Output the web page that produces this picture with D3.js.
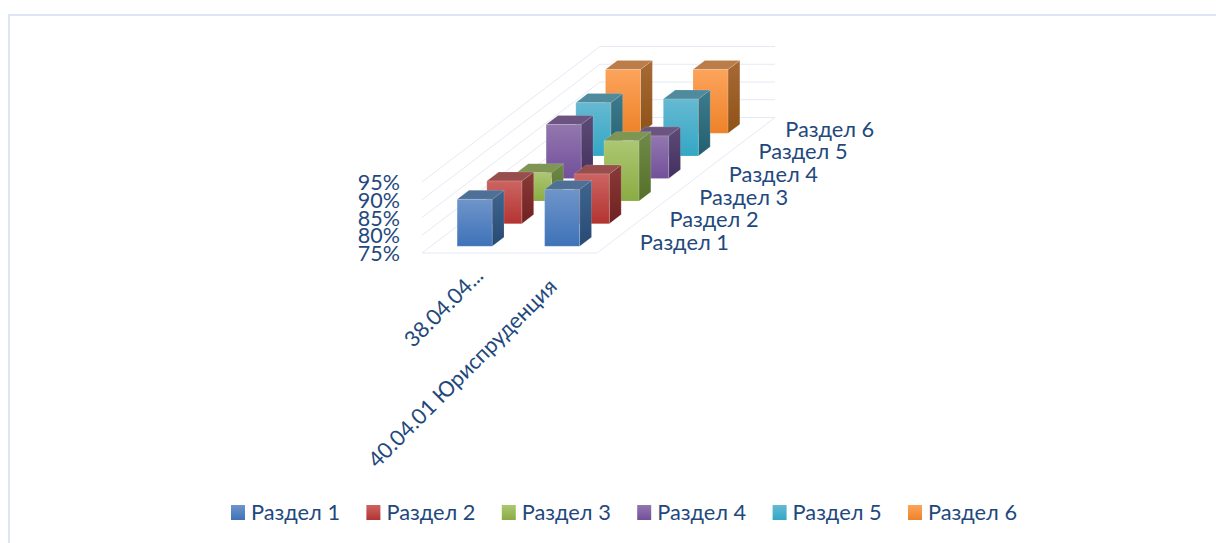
<!DOCTYPE html>
<html>
<head>
<meta charset="utf-8">
<script src="https://cdn.jsdelivr.net/npm/d3@7"></script>
<style>
  html, body { margin: 0; padding: 0; background: #fff; overflow: hidden; }
  text { font-family: Lato, "Noto Sans", sans-serif; fill: #1f497d; }
</style>
</head>
<body>
<div id="chart"></div>
<script>
var categories = ["38.04.04...", "40.04.01 Юриспруденция"];
var seriesNames = ["Раздел 1", "Раздел 2", "Раздел 3", "Раздел 4", "Раздел 5", "Раздел 6"];
var values1 = [88.2, 87, 83, 90.2, 90, 93];
var values2 = [91, 89, 92, 87, 91, 93];
var yTicks = [75, 80, 85, 90, 95];

// colours per series: front top, front bottom, side top, side bottom, top face
var frontTop = ["#6f95ca", "#cc6462", "#acc772", "#9377ae", "#66b9d2", "#fca45c"];
var frontBottom = ["#3e72b8", "#b33431", "#8aac43", "#72509b", "#33a7c5", "#ee8229"];
var sideTop = ["#3f6690", "#8a3a38", "#708a47", "#5d4a75", "#3c7c8e", "#a86a35"];
var sideBottom = ["#274a72", "#6f2120", "#56702c", "#44305f", "#235f70", "#8e5217"];
var topFace = ["#4f7096", "#984e4c", "#7e9554", "#6b5580", "#4f8b9d", "#bb7c48"];

var svg = d3.select("#chart").append("svg")
    .attr("width", 1216)
    .attr("height", 543);

// outer frame, runs off the right and bottom of the picture
svg.append("rect")
    .attr("x", 9).attr("y", 15)
    .attr("width", 1300).attr("height", 700)
    .attr("fill", "none")
    .attr("stroke", "#dce6f5")
    .attr("stroke-width", 2);

// floor corner of the 3d box and the depth vector
var ox = 422, oy = 253;
var depthX = 178, depthY = -135.5;

var xScale = d3.scaleBand().domain(d3.range(categories.length)).range([0, 175]).paddingInner(0.6).paddingOuter(0.3);
var zScale = d3.scaleBand().domain(d3.range(seriesNames.length)).range([0, 1]).paddingInner(0.6).paddingOuter(0.3);
var yScale = d3.scaleLinear().domain([75, 95]).range([0, 71]);

function project(x, v, z) {
    return [ox + x + z * depthX, oy - yScale(v) + z * depthY];
}
var line = d3.line();

// walls
var gridColor = "#e4e9f4";
var grid = svg.append("g").attr("fill", "none").attr("stroke", gridColor).attr("stroke-width", 1);
grid.selectAll("path.wall")
    .data(yTicks)
    .enter()
    .append("path")
    .attr("class", "wall")
    .attr("d", function (d) { return line([project(0, d, 0), project(0, d, 1), project(175, d, 1)]); });
grid.append("path")
    .attr("d", line([project(0, 75, 0), project(175, 75, 0), project(175, 75, 1)]));

// gradients
var defs = svg.append("defs");
function addGradient(id, c1, c2) {
    var g = defs.append("linearGradient").attr("id", id).attr("x1", 0).attr("y1", 0).attr("x2", 0).attr("y2", 1);
    g.append("stop").attr("offset", "0%").attr("stop-color", c1);
    g.append("stop").attr("offset", "100%").attr("stop-color", c2);
}
seriesNames.forEach(function (d, i) {
    addGradient("front" + i, frontTop[i], frontBottom[i]);
    addGradient("side" + i, sideTop[i], sideBottom[i]);
});

// bars, back row first so nearer ones cover them
var bars = [];
d3.range(seriesNames.length).reverse().forEach(function (s) {
    [values1, values2].forEach(function (vals, c) {
        bars.push({ s: s, c: c, v: vals[s] });
    });
});

var barG = svg.selectAll("g.bar")
    .data(bars)
    .enter()
    .append("g")
    .attr("class", "bar")
    .attr("stroke-linejoin", "round");

function face(sel, fn, fill) {
    sel.append("path")
        .attr("d", function (d) { return line(fn(d)) + "Z"; })
        .attr("fill", fill)
        .attr("stroke", "#fff")
        .attr("stroke-opacity", 0.15)
        .attr("stroke-width", 1);
}
function corners(d) {
    return {
        x0: xScale(d.c),
        x1: xScale(d.c) + xScale.bandwidth(),
        z0: zScale(d.s),
        z1: zScale(d.s) + zScale.bandwidth()
    };
}
face(barG, function (d) {
    var k = corners(d);
    return [project(k.x1, d.v, k.z0), project(k.x1, d.v, k.z1), project(k.x1, 75, k.z1), project(k.x1, 75, k.z0)];
}, function (d) { return "url(#side" + d.s + ")"; });
face(barG, function (d) {
    var k = corners(d);
    return [project(k.x0, d.v, k.z0), project(k.x0, d.v, k.z1), project(k.x1, d.v, k.z1), project(k.x1, d.v, k.z0)];
}, function (d) { return topFace[d.s]; });
face(barG, function (d) {
    var k = corners(d);
    return [project(k.x0, d.v, k.z0), project(k.x1, d.v, k.z0), project(k.x1, 75, k.z0), project(k.x0, 75, k.z0)];
}, function (d) { return "url(#front" + d.s + ")"; });

// value axis
svg.selectAll("text.ytick")
    .data(yTicks)
    .enter()
    .append("text")
    .attr("class", "ytick")
    .attr("x", 400)
    .attr("y", function (d) { return project(0, d, 0)[1] + 8; })
    .attr("text-anchor", "end")
    .attr("font-size", 21.5)
    .text(function (d) { return d + "%"; });

// series axis
svg.selectAll("text.zlabel")
    .data(seriesNames)
    .enter()
    .append("text")
    .attr("class", "zlabel")
    .attr("x", function (d, i) { return project(175, 75, zScale(i) + zScale.bandwidth() / 2)[0] + 28 - (i == 5 ? 3 : 0); })
    .attr("y", function (d, i) { return project(175, 75, zScale(i) + zScale.bandwidth() / 2)[1] + 8; })
    .attr("font-size", 21.8)
    .text(function (d) { return d; });

// category axis, the long label sits further down and left
svg.selectAll("text.xlabel")
    .data(categories)
    .enter()
    .append("text")
    .attr("class", "xlabel")
    .attr("transform", function (d, i) {
        var p = project(xScale(i) + xScale.bandwidth() / 2, 75, 0);
        return "translate(" + (p[0] + (i == 0 ? 19 : 5)) + "," + (p[1] + (i == 0 ? 24 : 35)) + ") rotate(-45)";
    })
    .attr("text-anchor", "end")
    .attr("font-size", 21.7)
    .text(function (d) { return d; });

// legend
var legendX = d3.scalePoint().domain(seriesNames).range([231, 908]);
var legend = svg.selectAll("g.legend")
    .data(seriesNames)
    .enter()
    .append("g")
    .attr("class", "legend")
    .attr("transform", function (d) { return "translate(" + legendX(d) + ",505)"; });
legend.append("rect")
    .attr("width", 14).attr("height", 15)
    .attr("fill", function (d, i) { return "url(#front" + i + ")"; });
legend.append("text")
    .attr("x", 20).attr("y", 15)
    .attr("font-size", 21.8)
    .text(function (d) { return d; });
</script>
</body>
</html>
